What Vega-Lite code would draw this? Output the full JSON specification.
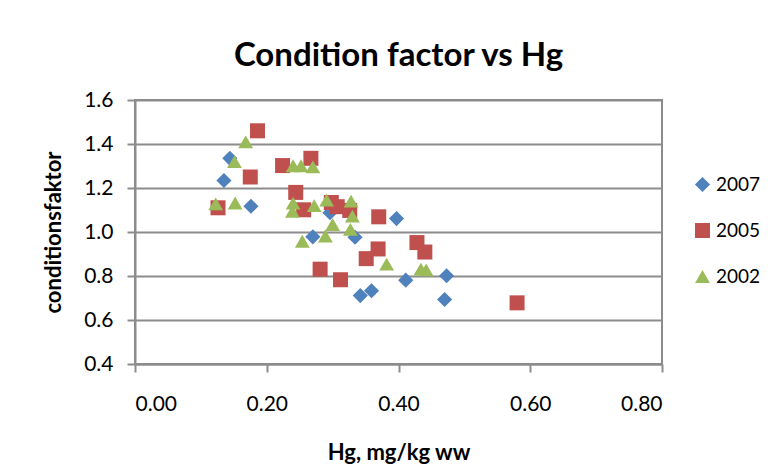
{
  "$schema": "https://vega.github.io/schema/vega-lite/v6.json",
  "width": 527,
  "height": 264,
  "autosize": {"type": "none"},
  "padding": {"left": 135, "top": 100, "right": 117, "bottom": 110},
  "background": "white",
  "title": {
    "text": "Condition factor vs Hg",
    "font": "Lato",
    "fontSize": 33,
    "fontWeight": "bold",
    "color": "#000000",
    "anchor": "middle",
    "baseline": "alphabetic",
    "offset": -10
  },
  "data": {
    "values": [
      {"year": "2007", "hg": 0.144, "cf": 1.335},
      {"year": "2007", "hg": 0.135, "cf": 1.234},
      {"year": "2007", "hg": 0.176, "cf": 1.117},
      {"year": "2007", "hg": 0.296, "cf": 1.088},
      {"year": "2007", "hg": 0.397, "cf": 1.061},
      {"year": "2007", "hg": 0.270, "cf": 0.978},
      {"year": "2007", "hg": 0.334, "cf": 0.976},
      {"year": "2007", "hg": 0.411, "cf": 0.781},
      {"year": "2007", "hg": 0.342, "cf": 0.711},
      {"year": "2007", "hg": 0.359, "cf": 0.733},
      {"year": "2007", "hg": 0.473, "cf": 0.801},
      {"year": "2007", "hg": 0.470, "cf": 0.693},
      {"year": "2005", "hg": 0.186, "cf": 1.460},
      {"year": "2005", "hg": 0.224, "cf": 1.302},
      {"year": "2005", "hg": 0.267, "cf": 1.335},
      {"year": "2005", "hg": 0.175, "cf": 1.250},
      {"year": "2005", "hg": 0.126, "cf": 1.110},
      {"year": "2005", "hg": 0.244, "cf": 1.180},
      {"year": "2005", "hg": 0.256, "cf": 1.101},
      {"year": "2005", "hg": 0.298, "cf": 1.134},
      {"year": "2005", "hg": 0.307, "cf": 1.115},
      {"year": "2005", "hg": 0.326, "cf": 1.098},
      {"year": "2005", "hg": 0.370, "cf": 1.069},
      {"year": "2005", "hg": 0.428, "cf": 0.952},
      {"year": "2005", "hg": 0.440, "cf": 0.909},
      {"year": "2005", "hg": 0.369, "cf": 0.923},
      {"year": "2005", "hg": 0.351, "cf": 0.879},
      {"year": "2005", "hg": 0.281, "cf": 0.831},
      {"year": "2005", "hg": 0.312, "cf": 0.783},
      {"year": "2005", "hg": 0.580, "cf": 0.678},
      {"year": "2002", "hg": 0.168, "cf": 1.410},
      {"year": "2002", "hg": 0.151, "cf": 1.320},
      {"year": "2002", "hg": 0.240, "cf": 1.301},
      {"year": "2002", "hg": 0.252, "cf": 1.301},
      {"year": "2002", "hg": 0.270, "cf": 1.296},
      {"year": "2002", "hg": 0.1225, "cf": 1.128},
      {"year": "2002", "hg": 0.152, "cf": 1.132},
      {"year": "2002", "hg": 0.240, "cf": 1.131},
      {"year": "2002", "hg": 0.239, "cf": 1.094},
      {"year": "2002", "hg": 0.272, "cf": 1.120},
      {"year": "2002", "hg": 0.291, "cf": 1.145},
      {"year": "2002", "hg": 0.328, "cf": 1.140},
      {"year": "2002", "hg": 0.330, "cf": 1.072},
      {"year": "2002", "hg": 0.300, "cf": 1.034},
      {"year": "2002", "hg": 0.327, "cf": 1.012},
      {"year": "2002", "hg": 0.254, "cf": 0.958},
      {"year": "2002", "hg": 0.289, "cf": 0.982},
      {"year": "2002", "hg": 0.382, "cf": 0.854},
      {"year": "2002", "hg": 0.434, "cf": 0.831},
      {"year": "2002", "hg": 0.442, "cf": 0.828}
    ]
  },
  "mark": {"type": "point", "filled": true, "opacity": 1, "strokeWidth": 0},
  "encoding": {
    "x": {
      "field": "hg",
      "type": "quantitative",
      "scale": {"domain": [0, 0.8], "nice": false, "zero": false},
      "axis": {
        "values": [0, 0.2, 0.4, 0.6, 0.8],
        "format": ".2f",
        "grid": false,
        "title": "Hg, mg/kg ww",
        "labelPadding": 21,
        "titlePadding": 28
      }
    },
    "y": {
      "field": "cf",
      "type": "quantitative",
      "scale": {"domain": [0.4, 1.6], "nice": false, "zero": false},
      "axis": {
        "values": [0.4, 0.6, 0.8, 1.0, 1.2, 1.4, 1.6],
        "format": ".1f",
        "grid": true,
        "title": "conditionsfaktor",
        "labelPadding": 14,
        "titlePadding": 18
      }
    },
    "color": {
      "field": "year",
      "type": "nominal",
      "scale": {"domain": ["2007", "2005", "2002"], "range": ["#4F81BD", "#C0504D", "#9BBB59"]},
      "legend": {"title": null}
    },
    "shape": {
      "field": "year",
      "type": "nominal",
      "scale": {"domain": ["2007", "2005", "2002"], "range": ["diamond", "square", "triangle-up"]},
      "legend": {"title": null}
    },
    "size": {
      "field": "year",
      "type": "nominal",
      "scale": {"domain": ["2007", "2005", "2002"], "range": [230, 220, 330]},
      "legend": null
    }
  },
  "config": {
    "view": {"stroke": "#8C8C8C", "strokeWidth": 2},
    "axis": {
      "labelFont": "Lato",
      "labelFontSize": 21,
      "labelColor": "#000000",
      "titleFont": "Lato",
      "titleFontSize": 22,
      "titleFontWeight": "bold",
      "titleColor": "#000000",
      "domainColor": "#8C8C8C",
      "domainWidth": 2,
      "tickColor": "#8C8C8C",
      "tickWidth": 2,
      "tickSize": 8,
      "gridColor": "#8C8C8C",
      "gridWidth": 2
    },
    "legend": {
      "orient": "none",
      "legendX": 558,
      "legendY": 75,
      "labelFont": "Lato",
      "labelFontSize": 19,
      "labelColor": "#000000",
      "symbolSize": 170,
      "symbolStrokeWidth": 0,
      "symbolOpacity": 1,
      "rowPadding": 26,
      "labelOffset": 4
    }
  }
}
